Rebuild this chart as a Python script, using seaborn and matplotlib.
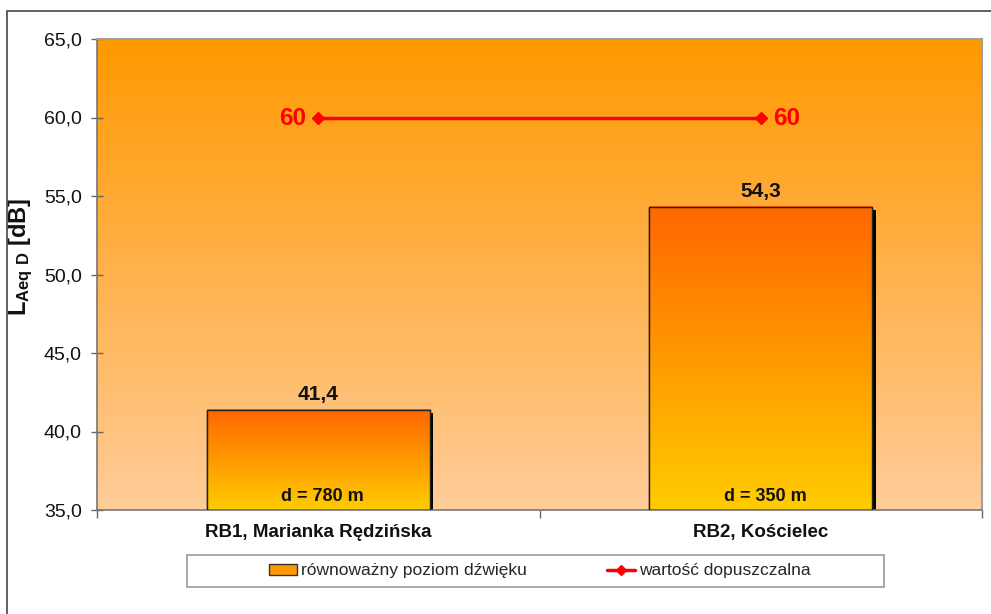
import numpy as np
import pandas as pd
import seaborn as sns
import matplotlib.pyplot as plt
from matplotlib.colors import LinearSegmentedColormap
from matplotlib.patches import Rectangle, Patch
from matplotlib.lines import Line2D
from matplotlib.ticker import FuncFormatter, FixedLocator
import matplotlib.patheffects as pe

# data
stations = ['RB1, Marianka Rędzińska', 'RB2, Kościelec']
levels = [41.4, 54.3]
distances = ['d = 780 m', 'd = 350 m']
limit = [60, 60]
ylim = (35, 65)

df = pd.DataFrame({'station': stations, 'level': levels})

sns.set_theme(style='white')
plt.rcParams['font.family'] = ['Liberation Sans', 'DejaVu Sans']
plt.rcParams['mathtext.fontset'] = 'custom'
plt.rcParams['mathtext.rm'] = 'Liberation Sans'
plt.rcParams['mathtext.bf'] = 'Liberation Sans:bold'

W, H = 991, 614
fig = plt.figure(figsize=(W / 100, H / 100), dpi=100)
ax = fig.add_axes([97 / W, 1 - 510 / H, 885 / W, 471 / H])

# background gradient of plot area
bg_cmap = LinearSegmentedColormap.from_list('bg', ['#FFCC99', '#FF9900'])
grad = np.linspace(1, 0, 256)[:, None]
ax.imshow(grad, extent=[0, 1, 0, 1], transform=ax.transAxes, cmap=bg_cmap,
          aspect='auto', zorder=0)

sns.barplot(data=df, x='station', y='level', ax=ax, width=0.505,
            color='#FFCC00', edgecolor='#222222', linewidth=1, zorder=1)
ax.set_ylim(*ylim)
ax.set_xlim(-0.5, len(stations) - 0.5)

bar_cmap = LinearSegmentedColormap.from_list('bar', ['#FFCC00', '#FF9900', '#FF6600'])
for p, dist in zip(ax.patches, distances):
    x0, w = p.get_x(), p.get_width()
    y0 = max(p.get_y(), ylim[0])
    y1 = p.get_y() + p.get_height()
    p.set_path_effects([pe.SimplePatchShadow(offset=(2.5, -2.5), shadow_rgbFace='black', alpha=1),
                        pe.Normal()])
    ax.imshow(grad, extent=[x0, x0 + w, y0, y1], cmap=bar_cmap,
              aspect='auto', zorder=2)
    ax.add_patch(Rectangle((x0, y0), w, y1 - y0, fill=False,
                           edgecolor='#222222', lw=1, zorder=3))
    ax.text(x0 + w / 2 + 0.01, y0 + 0.3, dist, ha='center', va='bottom',
            fontsize=13, fontweight='bold', color='#111111', zorder=4)
    ax.text(x0 + w / 2, y1 + 0.35, f'{y1:.1f}'.replace('.', ','), ha='center',
            va='bottom', fontsize=15, fontweight='bold', color='#111111', zorder=4)

ax.set_xlim(-0.5, len(stations) - 0.5)
ax.set_ylim(*ylim)

# permissible level
xs = np.arange(len(stations))
ax.plot(xs, limit, color='#FF0000', lw=2.5, marker='D', markersize=6, zorder=5)
ax.annotate(str(limit[0]), (xs[0], limit[0]), xytext=(-9, -1), textcoords='offset points',
            ha='right', va='center', color='#FF0000', fontsize=17.5, fontweight='bold')
ax.annotate(str(limit[-1]), (xs[-1], limit[-1]), xytext=(9, -1), textcoords='offset points',
            ha='left', va='center', color='#FF0000', fontsize=17.5, fontweight='bold')

# axes styling
ax.yaxis.set_major_locator(FixedLocator(np.arange(35, 66, 5)))
ax.yaxis.set_major_formatter(FuncFormatter(lambda v, _: f'{v:.1f}'.replace('.', ',')))
ax.tick_params(axis='y', direction='inout', length=8, width=1, color='#666666',
               labelsize=14, pad=7, labelcolor='#111111', left=True)
ax.xaxis.set_minor_locator(FixedLocator([-0.5, 0.5, 1.5]))
ax.tick_params(axis='x', which='major', length=0, pad=10, labelsize=13.5)
ax.tick_params(axis='x', which='minor', direction='out', length=6, width=1,
               color='#666666', bottom=True)
for lab in ax.get_xticklabels():
    lab.set_fontweight('bold')
    lab.set_color('#111111')
ax.set_xlabel('')
ax.set_ylabel(r'$\mathbf{L_{Aeq\ D}}$ [dB]', fontsize=17, fontweight='bold', color='#111111')
ax.yaxis.set_label_coords(-(97 - 35) / 885, (510 - 257) / 471)
for s in ['left', 'bottom']:
    ax.spines[s].set_color('#777777')
    ax.spines[s].set_linewidth(1.2)
for s in ['top', 'right']:
    ax.spines[s].set_color('#A0A0A0')
    ax.spines[s].set_linewidth(1.5)

# outer frame
fig.add_artist(Rectangle((7 / W, -0.1), 1.2, 1.1 - 11 / H, transform=fig.transFigure,
                         fill=False, edgecolor='#555555', lw=1.3))

# legend
fig.add_artist(Rectangle((187 / W, 1 - 587 / H), 697 / W, 32 / H, transform=fig.transFigure,
                         facecolor='white', edgecolor='#999999', lw=1.2))
handles = [Patch(facecolor='#FF9900', edgecolor='#333333', lw=1),
           Line2D([0], [0], color='#FF0000', lw=2.5, marker='D', markersize=5)]
fig.legend(handles, ['równoważny poziom dźwięku', 'wartość dopuszczalna'],
           loc='center', bbox_to_anchor=(540 / W, 1 - 571 / H), ncol=2, frameon=False,
           fontsize=12.5, handlelength=1.6, handletextpad=0.25, columnspacing=4.6,
           handleheight=0.6)

fig.savefig('out.png', dpi=100)
